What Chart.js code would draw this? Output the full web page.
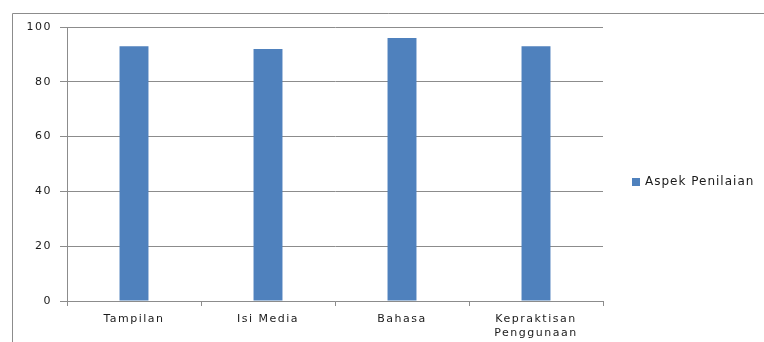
<!DOCTYPE html>
<html>
<head>
<meta charset="utf-8">
<script src="https://cdn.jsdelivr.net/npm/chart.js@4.4.1/dist/chart.umd.min.js"></script>
<style>
  html, body { margin: 0; padding: 0; background: #fff; }
  #wrap { width: 764px; height: 342px; position: relative; }
</style>
</head>
<body>
<div id="wrap"><canvas id="chart" width="764" height="342"></canvas></div>
<script>
// data
const categories = ['Tampilan', 'Isi Media', 'Bahasa', ['Kepraktisan', 'Penggunaan']];
const seriesName = 'Aspek Penilaian';
const seriesValues = [93, 92, 96, 93];
const yTicks = [0, 20, 40, 60, 80, 100];

const fontFamily = '"DejaVu Sans", sans-serif';
const textColor = '#1a1a1a';
const gridColor = '#8c8c8c';
const barColor = '#4f81bd';

// the original text looks stretched sideways, so spread the letters a bit
const spacingPlugin = {
    id: 'spacing',
    beforeInit(chart) { chart.ctx.letterSpacing = '1.5px'; },
    beforeLayout(chart) { chart.ctx.letterSpacing = '1.5px'; },
    beforeDraw(chart) { chart.ctx.letterSpacing = '1.5px'; }
};

// frame + legend drawn on canvas
const framePlugin = {
    id: 'frame',
    beforeDraw(chart) {
        const ctx = chart.ctx;
        ctx.save();
        ctx.fillStyle = '#fff';
        ctx.fillRect(0, 0, chart.width, chart.height);
        ctx.strokeStyle = '#8c8c8c';
        ctx.lineWidth = 1;
        ctx.beginPath();
        ctx.moveTo(12.5, chart.height + 1);
        ctx.lineTo(12.5, 13.5);
        ctx.lineTo(chart.width + 1, 13.5);
        ctx.stroke();
        ctx.restore();
    },
    afterDraw(chart) {
        const ctx = chart.ctx;
        const ds = chart.data.datasets[0];
        ctx.save();
        ctx.fillStyle = ds.backgroundColor;
        ctx.fillRect(632, 178, 8, 8);
        ctx.fillStyle = textColor;
        ctx.font = '12px ' + fontFamily;
        ctx.letterSpacing = '1px';
        ctx.textBaseline = 'middle';
        ctx.fillText(ds.label, 645, 182);
        ctx.restore();
    }
};

new Chart(document.getElementById('chart'), {
    type: 'bar',
    data: {
        labels: categories,
        datasets: [{
            label: seriesName,
            data: seriesValues,
            backgroundColor: barColor,
            borderWidth: 0,
            categoryPercentage: 1,
            barPercentage: 0.216
        }]
    },
    options: {
        responsive: false,
        animation: false,
        layout: { padding: { left: 0, right: 161, top: 27, bottom: 0 } },
        plugins: {
            legend: { display: false },
            tooltip: { enabled: false }
        },
        scales: {
            x: {
                grid: {
                    offset: true,
                    drawOnChartArea: false,
                    color: gridColor,
                    tickLength: 5
                },
                border: { color: gridColor },
                ticks: {
                    color: textColor,
                    font: { family: fontFamily, size: 11, lineHeight: 1.2 },
                    padding: 7,
                    maxRotation: 0
                },
                afterFit(s) { s.height = 41; }
            },
            y: {
                min: 0,
                max: 100,
                afterBuildTicks(s) { s.ticks = yTicks.map(v => ({ value: v })); },
                grid: { color: gridColor, tickLength: 7 },
                border: { color: gridColor },
                ticks: {
                    color: textColor,
                    font: { family: fontFamily, size: 11 },
                    padding: 8
                },
                afterFit(s) { s.width = 67; }
            }
        }
    },
    plugins: [spacingPlugin, framePlugin]
});
</script>
</body>
</html>
